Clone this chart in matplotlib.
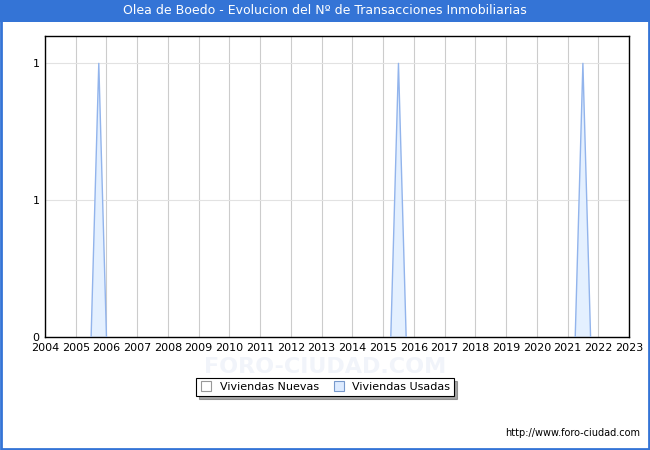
import matplotlib
matplotlib.use("Agg")
import matplotlib.pyplot as plt
from matplotlib.patches import Rectangle
from matplotlib.lines import Line2D

title = "Olea de Boedo - Evolucion del Nº de Transacciones Inmobiliarias"
years = list(range(2004, 2024))
year_labels = [str(y) for y in years]
y_ticks = [0, 0.5, 1]
y_tick_labels = ["0", "1", "1"]

# quarterly positions (fractional years) and values
quarters = [2005.5, 2005.75, 2006.0, 2015.25, 2015.5, 2015.75, 2021.25, 2021.5, 2021.75]
usadas = [0, 1, 0, 0, 1, 0, 0, 1, 0]
nuevas = [0, 0, 0, 0, 0, 0, 0, 0, 0]

blue = "#3474D6"
fig = plt.figure(figsize=(6.5, 4.5), dpi=100)
fig.patch.set_facecolor("white")

# title bar and border
fig.patches.append(Rectangle((0, 1 - 22 / 450), 1, 22 / 450, transform=fig.transFigure,
                             facecolor=blue, edgecolor="none", zorder=0))
fig.patches.append(Rectangle((0.0015, 0.002), 0.997, 0.996, transform=fig.transFigure,
                             facecolor="none", edgecolor=blue, linewidth=2, zorder=0))
fig.text(0.5, 1 - 11 / 450, title, color="white", ha="center", va="center", fontsize=9)

ax = fig.add_axes([45 / 650, 1 - 337 / 450, (629 - 45) / 650, (337 - 36) / 450])
ax.set_xlim(2004, 2023)
ax.set_ylim(0, 1.1)

for i in range(0, len(quarters), 3):
    xs = quarters[i:i + 3]
    ax.fill_between(xs, nuevas[i:i + 3], usadas[i:i + 3], facecolor="#E4F0FF",
                    edgecolor="none", zorder=2)
    ax.plot(xs, usadas[i:i + 3], color="#92B4EC", linewidth=1, zorder=3)

ax.set_xticks(years)
ax.set_xticklabels(year_labels, fontsize=8)
ax.set_yticks(y_ticks)
ax.set_yticklabels(y_tick_labels, fontsize=8)
ax.tick_params(length=0, pad=4)
ax.grid(axis="x", color="#CCCCCC", linewidth=0.8, zorder=1)
ax.grid(axis="y", color="#E2E2E2", linewidth=0.8, zorder=1)
ax.set_axisbelow(True)
for s in ax.spines.values():
    s.set_linewidth(1)
    s.set_color("black")

# watermark
fig.text(0.5, 1 - 367 / 450, "FORO-CIUDAD.COM", ha="center", va="center",
         fontsize=16, color="#F1F4FA", zorder=0, fontweight="bold")

# legend
handles = [
    Line2D([], [], marker="s", linestyle="none", markersize=6.5, markerfacecolor="white",
           markeredgecolor="#999999", markeredgewidth=0.8),
    Line2D([], [], marker="s", linestyle="none", markersize=6.5, markerfacecolor="#DDEBFF",
           markeredgecolor="#7799CC", markeredgewidth=0.8),
]
leg = fig.legend(handles, ["Viviendas Nuevas", "Viviendas Usadas"], loc="center",
                 bbox_to_anchor=(0.5, 1 - 387 / 450), ncol=2, fontsize=8,
                 frameon=True, fancybox=False, shadow=True, borderpad=0.35,
                 handletextpad=0.6, columnspacing=1.2, handlelength=1.2)
leg.get_frame().set_edgecolor("black")
leg.get_frame().set_linewidth(0.8)

fig.text(640 / 650, 1 - 433 / 450, "http://www.foro-ciudad.com", ha="right", va="center",
         fontsize=7)

fig.savefig("out.png", dpi=100)
